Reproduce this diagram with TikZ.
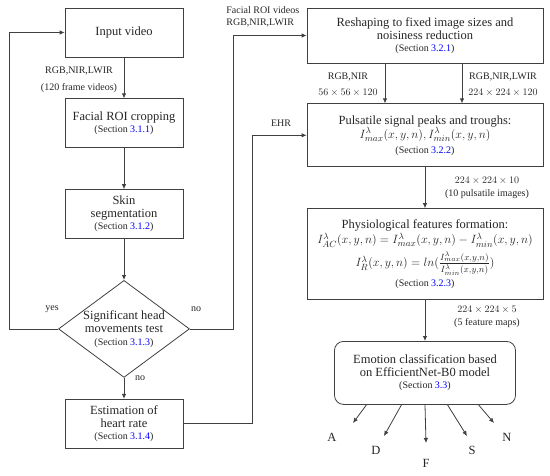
\documentclass[tikz,border=0pt]{standalone}
\usepackage{amsmath,amssymb}
\usepackage{fontspec}
\setmainfont{Liberation Serif}
\usetikzlibrary{arrows.meta,positioning,shapes.geometric}

\newcommand{\bigtxt}{\fontsize{12.5}{14}\selectfont}
\newcommand{\smtxt}{\fontsize{10}{12}\selectfont}
\newcommand{\mathtxt}{\fontsize{13.2}{15}\selectfont}
\newcommand{\secref}[1]{{\smtxt (Section \textcolor{blue}{#1})}}

\begin{document}
\begin{tikzpicture}[
  x=1pt, y=-1pt,
  font=\bigtxt,
  line width=0.8pt,
  every node/.style={text=black!85},
  box/.style={draw=black!75, align=center, inner sep=2pt},
  leftbox/.style={box, minimum width=118pt, minimum height=49pt},
  rightbox/.style={box, minimum width=236pt},
  test/.style={draw=black!75, diamond, aspect=1.35, inner sep=-2pt, align=center,
    minimum width=131pt, minimum height=97pt},
  lbl/.style={font=\smtxt, align=center, inner sep=1pt},
  arrow/.style={-{Latex[length=5pt,width=4.5pt]}, draw=black!75}
]
\useasboundingbox (0,0) rectangle (550,475);

% left column
\node[leftbox] (input) at (124,32.5) {Input video};
\node[leftbox, below=41pt of input] (facial) {
  Facial ROI cropping\\[-2pt]
  \secref{3.1.1}
};
\node[leftbox, below=41pt of facial] (skin) {
  Skin\\[-1pt]
  segmentation\\[-2pt]
  \secref{3.1.2}
};
\node[test, below=41pt of skin] (headtest) {
  Significant head\\[-1pt]
  movements test\\[-1pt]
  \secref{3.1.3}
};
\node[leftbox, below=21pt of headtest] (heart) {
  Estimation of\\[-1pt]
  heart rate\\[-2pt]
  \secref{3.1.4}
};

% right column
\node[rightbox, minimum height=55pt] (reshape) at (425,35.5) {
  Reshaping to fixed image sizes and\\[-1pt]
  noisiness reduction\\[-2pt]
  \secref{3.2.1}
};
\node[rightbox, minimum height=63pt, below=40pt of reshape] (pulse) {
  Pulsatile signal peaks and troughs:\\
  {\mathtxt $I^{\lambda}_{max}(x,y,n), I^{\lambda}_{min}(x,y,n)$}\\[1pt]
  \secref{3.2.2}
};
\node[rightbox, minimum height=91pt, below=41pt of pulse] (physio) {
  Physiological features formation:\\[1pt]
  {\mathtxt $I^{\lambda}_{AC}(x,y,n) = I^{\lambda}_{max}(x,y,n) - I^{\lambda}_{min}(x,y,n)$}\\[3pt]
  {\mathtxt $I^{\lambda}_{R}(x,y,n) = ln(\frac{I^{\lambda}_{max}(x,y,n)}{I^{\lambda}_{min}(x,y,n)})$}\\[3pt]
  \secref{3.2.3}
};
\node[box, rounded corners=9pt, minimum width=181pt, minimum height=63pt,
  below=41pt of physio] (emotion) {
  Emotion classification based\\[-1pt]
  on EfficientNet-B0 model\\[-2pt]
  \secref{3.3}
};

% labels
\node[lbl] (lrgb) at (79,71) {RGB,NIR,LWIR};
\node[lbl] (lframes) at (79,88) {(120 frame videos)};
\node[lbl] (lyes) at (52,309) {yes};
\node[lbl] (lnoright) at (196,309) {no};
\node[lbl] (lnodown) at (140,378) {no};
\node[lbl, align=left, anchor=west] (lroi) at (225,17) {Facial ROI videos\\RGB,NIR,LWIR};
\node[lbl] (lehr) at (281,123) {EHR};
\node[lbl] (lrgbnir) at (348,77) {RGB,NIR};
\node[lbl] (lsmall) at (348,93) {$56 \times 56 \times 120$};
\node[lbl] (lrgbnirlwir) at (503,77) {RGB,NIR,LWIR};
\node[lbl] (lbig) at (503,93) {$224 \times 224 \times 120$};
\node[lbl] (lten) at (487,181) {$224 \times 224 \times 10$};
\node[lbl] (lpulsimg) at (487,194) {(10 pulsatile images)};
\node[lbl] (lfive) at (487,310) {$224 \times 224 \times 5$};
\node[lbl] (lfeat) at (487,323) {(5 feature maps)};

% emotion classes
\node (clsA) at (332,437) {A};
\node (clsD) at (376,450) {D};
\node (clsF) at (426,463) {F};
\node (clsS) at (472,450) {S};
\node (clsN) at (507,437) {N};
\coordinate (endA) at (353,423);
\coordinate (endD) at (384,436);
\coordinate (endF) at (426,443);
\coordinate (endS) at (467,436);
\coordinate (endN) at (494,423);

\draw[arrow] (input) -- (facial);
\draw[arrow] (facial) -- (skin);
\draw[arrow] (skin) -- (headtest);
\draw[arrow] (headtest) -- (heart);
\draw[arrow] (headtest.west) -- ++(-49,0) |- (input.west);
\draw[arrow] (headtest.east) -- ++(43,0) |- (reshape.west);
\draw[arrow] (heart.east) -- ++(69,0) |- (pulse.west);
\draw[arrow] ([xshift=-40pt]reshape.south) -- ([xshift=-40pt]pulse.north);
\draw[arrow] ([xshift=37pt]reshape.south) -- ([xshift=37pt]pulse.north);
\draw[arrow] (pulse) -- (physio);
\draw[arrow] (physio) -- (emotion);
\draw[arrow] ([xshift=-58.5pt]emotion.south) -- (endA);
\draw[arrow] ([xshift=-23.5pt]emotion.south) -- (endD);
\draw[arrow] (emotion.south) -- (endF);
\draw[arrow] ([xshift=22.5pt]emotion.south) -- (endS);
\draw[arrow] ([xshift=53.5pt]emotion.south) -- (endN);

\end{tikzpicture}
\end{document}
